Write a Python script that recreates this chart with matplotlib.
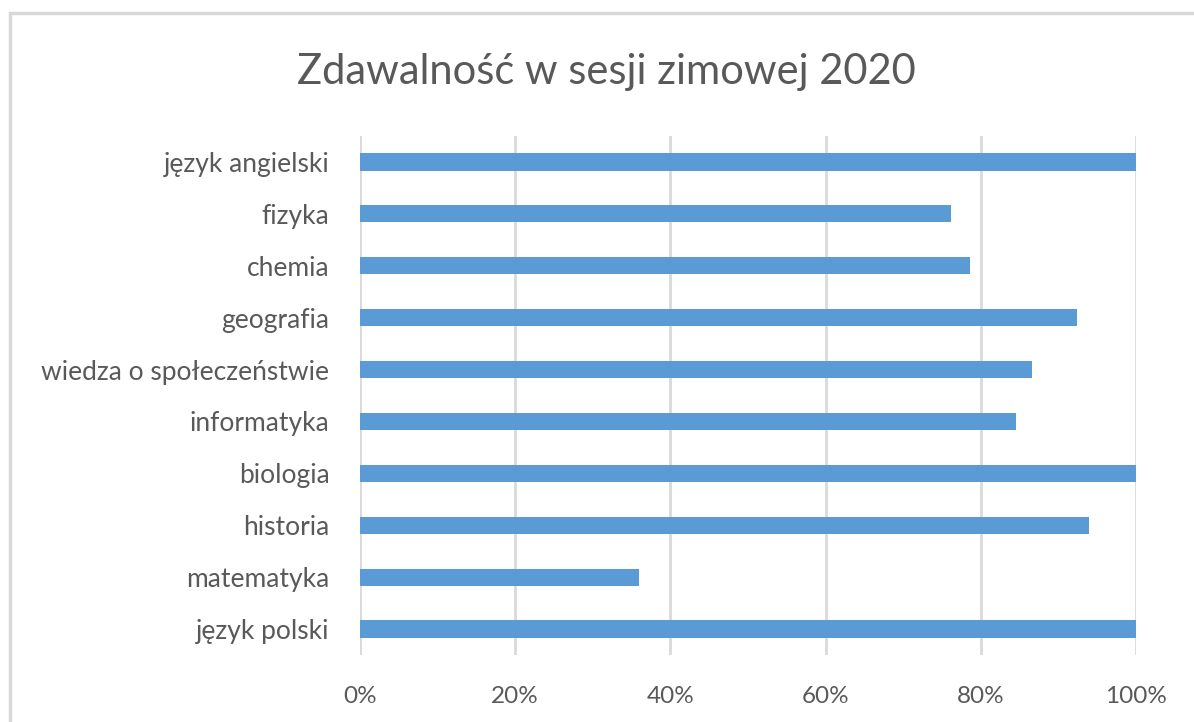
import matplotlib.pyplot as plt
from matplotlib.patches import Rectangle
from matplotlib.ticker import PercentFormatter

subjects = ['język polski', 'matematyka', 'historia', 'biologia', 'informatyka',
            'wiedza o społeczeństwie', 'geografia', 'chemia', 'fizyka', 'język angielski']
pass_rate = [100, 35.9, 93.9, 100, 84.6, 86.6, 92.4, 78.6, 76.2, 100]
xticks = [0, 20, 40, 60, 80, 100]

plt.rcParams['font.family'] = ['Lato', 'DejaVu Sans']
text_col = '#595959'
grid_col = '#d9d9d9'

fig = plt.figure(figsize=(11.94, 7.22), dpi=100)
# chart border (Excel style), running off the right and bottom edges
fig.patches.append(Rectangle((10 / 1194, -0.1), 1.2, 1 - 13 / 722 + 0.1,
                             transform=fig.transFigure, fill=False,
                             edgecolor=grid_col, linewidth=2.5))

ax = fig.add_axes([360 / 1194, 1 - 655 / 722, (1136 - 360) / 1194, (655 - 136) / 722])
ax.barh(range(len(subjects)), pass_rate, height=0.33, color='#5b9bd5', zorder=3)
ax.set_xlim(0, 100)
ax.set_ylim(-0.5, len(subjects) - 0.5)
ax.set_xticks(xticks)
ax.xaxis.set_major_formatter(PercentFormatter(decimals=0))
ax.set_yticks(range(len(subjects)))
ax.set_yticklabels(subjects)
ax.grid(axis='x', color=grid_col, linewidth=2, zorder=0)
for s in ax.spines.values():
    s.set_visible(False)
ax.tick_params(length=0, colors=text_col, pad=0)
ax.tick_params(axis='x', pad=22, labelsize=17.5)
ax.tick_params(axis='y', pad=22, labelsize=19)

fig.text(606 / 1194, 1 - 72 / 722, 'Zdawalność w sesji zimowej 2020',
         ha='center', va='center', fontsize=30, color=text_col)

fig.savefig('out.png', dpi=100)
